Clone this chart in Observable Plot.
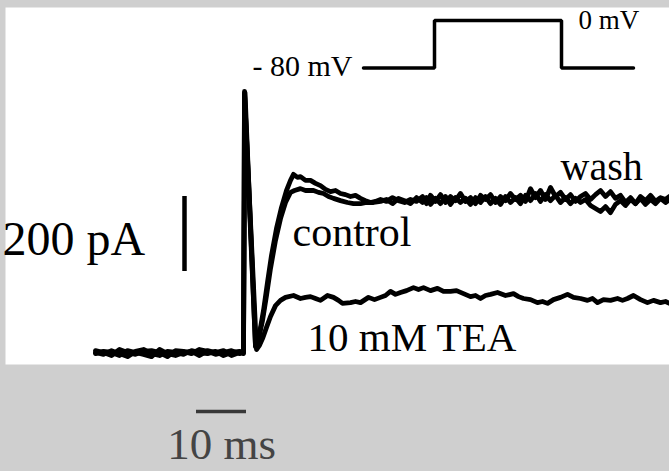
<!DOCTYPE html>
<html>
<head>
<meta charset="utf-8">
<script src="https://cdn.jsdelivr.net/npm/d3@7"></script>
<script src="https://cdn.jsdelivr.net/npm/@observablehq/plot@0.6"></script>
<style>
  html, body { margin: 0; padding: 0; background: #cfcfcf; }
  #wrap { position: relative; width: 669px; height: 471px; overflow: hidden; }
  #wrap svg { position: absolute; left: 0; top: 0; }
</style>
</head>
<body>
<div id="wrap"></div>
<script>
// ---- data: time (ms, step onset = 0) and current (pA) ----
const controlTrace = [
  [-29.6,0],[-28,-5],[-26.4,5],[-24.8,-3],[-23.2,-11],[-21.6,3],[-20,8],[-18.4,-3],[-16.8,-8],[-15.2,3],
  [-13.6,0],[-12,-5],[-10.4,5],[-8.8,0],[-7.2,-3],[-5.6,3],[-4,-8],[-2.4,0],[-0.8,3],[0,0],
  [0.2,696],[2.4,16],[3.0,37],[3.8,85],[4.6,152],[5.4,224],[6.4,299],[7.4,357],[8.4,400],[9.4,427],
  [10.2,432],[11.4,437],[12.4,432],[14.0,432],[15.0,427],[16.0,424],[17.0,416],[18.0,411],[19.4,405],
  [20.8,400],[22.0,397],[23.4,397],[24.6,400],[26.0,400],
  [27.4,403],[28.6,408],[29.8,397],[31.0,411],[32.2,405],[33.4,397],[34.6,413],[35.8,400],[36.6,413],
  [37.4,395],[38.4,411],[39.4,397],[40.4,416],[41.4,395],[42.4,413],[43.4,400],[44.4,411],[45.4,395],
  [46.4,413],[47.4,400],[48.4,416],[49.4,397],[50.4,411],[51.4,395],[52.4,416],[53.4,400],[54.4,413],
  [55.4,397],[56.4,419],[57.4,405],[58.4,424],[59.4,403],[60.4,421],[61.4,405],[62.4,419],[63.4,400],
  [64.4,413],[65.4,397],[66.4,411],[67.4,400],[68.4,408],[69.4,392],[70.4,384],[71.4,376],[72.4,389],
  [73.4,373],[74.4,395],[75.4,405],[76.4,392],[77.4,408],[78.4,397],[79.4,411],[80.4,395],[81.4,408],
  [82.4,397],[83.4,411],[84.4,400],[85.2,408]
];
const washTrace = [
  [-29.6,5],[-28,0],[-26.4,-8],[-24.8,8],[-23.2,0],[-21.6,-5],[-20,3],[-18.4,5],[-16.8,0],[-15.2,-11],
  [-13.6,5],[-12,3],[-10.4,-3],[-8.8,8],[-7.2,3],[-5.6,-5],[-4,0],[-2.4,5],[-0.8,-3],[0,3],
  [0.3,693],[2.4,16],[3.2,51],[4.0,112],[4.8,187],[5.6,259],[6.6,331],[7.6,387],[8.6,432],[9.4,459],
  [10.0,475],[10.8,467],[11.4,469],[12.4,459],[13.4,459],[14.4,451],[15.4,445],[16.4,435],[17.4,429],
  [18.4,432],[19.4,424],[20.4,421],[21.4,416],[22.4,419],[23.4,411],[24.4,405],[25.4,400],[26.4,403],
  [27.4,408],[28.6,403],[29.8,413],[31.0,405],[32.2,400],[33.4,408],[34.6,403],[35.8,416],[36.6,397],
  [37.4,419],[38.4,403],[39.4,421],[40.4,400],[41.4,416],[42.4,405],[43.4,424],[44.4,403],[45.4,413],
  [46.4,397],[47.4,419],[48.4,408],[49.4,421],[50.4,400],[51.4,416],[52.4,405],[53.4,424],[54.4,408],
  [55.4,419],[56.4,403],[57.4,437],[58.4,413],[59.4,432],[60.4,408],[61.4,440],[62.4,416],[63.4,427],
  [64.4,408],[65.4,421],[66.4,403],[67.4,416],[68.4,424],[69.4,408],[70.4,421],[71.4,432],[72.4,416],
  [73.4,429],[74.4,411],[75.4,419],[76.4,400],[77.4,413],[78.4,397],[79.4,416],[80.4,405],[81.4,419],
  [82.4,403],[83.4,413],[84.4,408],[85.2,416]
];
const teaTrace = [
  [-29.6,-3],[-28,3],[-26.4,0],[-24.8,-8],[-23.2,5],[-21.6,0],[-20,-5],[-18.4,-11],[-16.8,8],[-15.2,-3],
  [-13.6,-8],[-12,0],[-10.4,3],[-8.8,-8],[-7.2,5],[-5.6,0],[-4,5],[-2.4,-8],[-0.8,0],[0,-3],
  [0.2,690],[2.6,8],[3.2,19],[3.8,37],[4.6,67],[5.4,96],[6.4,125],[7.4,139],[8.4,147],[10.0,152],
  [11.4,144],[12.4,147],[13.4,149],[14.4,144],[15.4,139],[16.8,152],[18.0,147],[19.0,139],[19.8,131],
  [21.4,133],[22.4,136],[23.4,133],[25.0,147],[26.2,141],[27.4,147],[28.4,152],[29.4,163],[30.4,155],
  [31.4,160],[32.6,165],[34.0,173],[35.0,168],[36.0,173],[37.4,165],[38.8,171],[40.0,163],[41.4,163],
  [42.6,165],[44.0,157],[45.4,149],[46.4,152],[47.4,144],[48.4,152],[49.4,155],[50.8,160],[52.4,152],
  [54.0,157],[55.0,149],[56.0,144],[57.4,141],[58.8,133],[59.8,136],[60.8,131],[62.0,141],[63.4,147],
  [64.8,155],[66.0,147],[67.4,144],[68.8,139],[69.8,144],[70.8,133],[72.0,141],[73.4,139],[74.8,144],
  [75.8,139],[76.8,144],[78.0,152],[79.4,141],[80.8,133],[82.0,139],[83.4,133],[84.4,136],[85.2,131]
];

// voltage protocol (schematic): time (ms) and voltage (mV)
const protocolT = [24, 38.2, 38.2, 63.6, 63.6, 78];
const protocolV = [-80, -80, 0, 0, -80, -80];

// scale bars
const currentBar = { t: -11.8, from: 216, to: 416, label: "200 pA" };
const timeBar = { from: -9.4, to: 0.6, level: -157, label: "10 ms" };

// trace labels
const traceLabels = [
  { text: "control",   t: 9.8,  pA: 283, size: 42 },
  { text: "wash",      t: 63.4, pA: 459, size: 40 },
  { text: "10 mM TEA", t: 12.8, pA: 5,   size: 41 }
];
const voltageLabels = [
  { text: "- 80 mV", t: 1.8, mV: -92.6, size: 30 },
  { text: "0 mV",    t: 67,  mV: -13.5, size: 27 }
];

const W = 669, H = 471;
const margins = { marginLeft: 5, marginRight: 0, marginTop: 7, marginBottom: 107 };
const xDomain = [-47.6, 85.2];
const serif = "'Liberation Serif', 'Times New Roman', serif";
const XY = { x: d => d[0], y: d => d[1] };
const traceStyle = { stroke: "black", strokeWidth: 4.8, strokeLinejoin: "round", strokeLinecap: "round" };

const main = Plot.plot({
  width: W, height: H, ...margins,
  style: { background: "transparent", overflow: "visible" },
  x: { domain: xDomain, axis: null },
  y: { domain: [-32, 920], axis: null },
  marks: [
    Plot.frame({ fill: "white", stroke: null }),
    Plot.line(controlTrace, { ...XY, ...traceStyle }),
    Plot.line(washTrace, { ...XY, ...traceStyle }),
    Plot.line(teaTrace, { ...XY, ...traceStyle }),
    Plot.ruleX([currentBar], { x: "t", y1: "from", y2: "to", stroke: "black", strokeWidth: 4.5 }),
    Plot.text([currentBar], { x: -48.2, y: 259, text: "label", textAnchor: "start", lineAnchor: "bottom",
      fontSize: 48, fontFamily: serif, fill: "black" }),
    Plot.text(traceLabels, { x: "t", y: "pA", text: "text", fontSize: d => d.size, textAnchor: "start",
      lineAnchor: "bottom", fontFamily: serif, fill: "black" }),
    Plot.ruleY([timeBar], { y: "level", x1: "from", x2: "to", stroke: "#383838", strokeWidth: 3.5 }),
    Plot.text([timeBar], { x: d => (d.from + d.to) / 2, y: -283, text: "label", textAnchor: "middle",
      lineAnchor: "bottom", fontSize: 45, fontFamily: serif, fill: "#444" })
  ]
});

const proto = Plot.plot({
  width: W, height: H, ...margins,
  style: { background: "transparent", overflow: "visible" },
  x: { domain: xDomain, axis: null },
  y: { domain: [-579.2, 21.9], axis: null },
  marks: [
    Plot.line(protocolT.map((t, i) => ({ t, v: protocolV[i] })), { x: "t", y: "v", stroke: "black",
      strokeWidth: 3.5, strokeLinejoin: "miter" }),
    Plot.text(voltageLabels, { x: "t", y: "mV", text: "text", fontSize: d => d.size, textAnchor: "start",
      lineAnchor: "bottom", fontFamily: serif, fill: "black" })
  ]
});

const wrap = document.getElementById("wrap");
wrap.appendChild(main);
wrap.appendChild(proto);
</script>
</body>
</html>
